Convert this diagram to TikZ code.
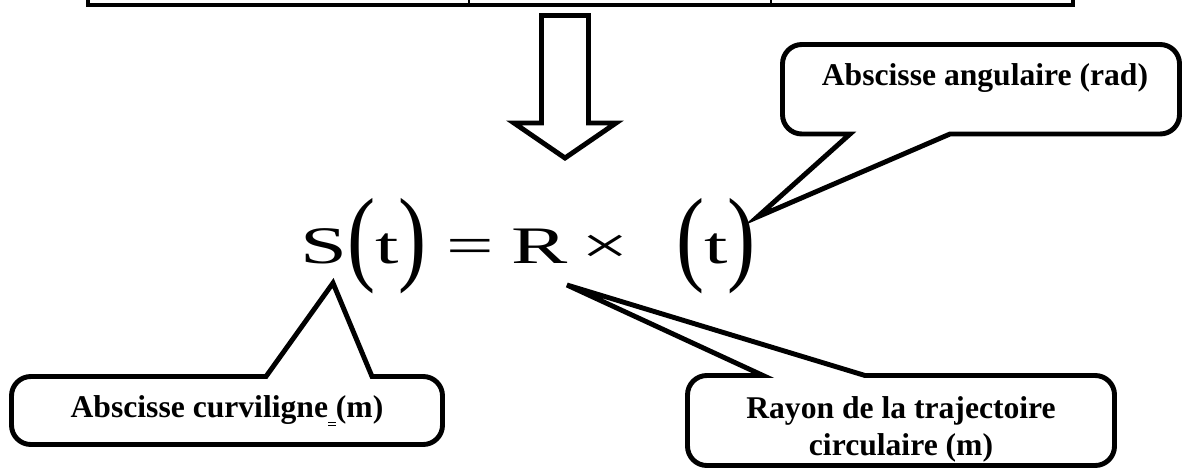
\documentclass[tikz,border=0pt]{standalone}
\usepackage{fontspec}
\setmainfont{Liberation Serif}
\usepackage{graphicx}

\newcommand{\eqfont}{\fontsize{30}{32}\selectfont}
\newcommand{\bigpar}[1]{\raisebox{-0.16em}{\scalebox{1}[2]{#1}}}
\newcommand{\wide}[1]{\scalebox{1.6}[1]{#1}}
\newcommand{\dblspace}{\rlap{\raisebox{-3.6pt}{\rule{4.5pt}{0.6pt}}}\rlap{\raisebox{-5.4pt}{\rule{4.5pt}{0.6pt}}}\hspace{4.5pt}}

\tikzset{
    bulle/.style={line width=2.8pt, line join=miter, rounded corners=11pt},
    bulletext/.style={font=\fontsize{18}{21}\selectfont\bfseries, inner sep=0pt, align=center},
    eqpart/.style={font=\eqfont, inner sep=0pt},
    tabline/.style={line width=2.3pt}
}

\begin{document}
\begin{tikzpicture}[x=0.02cm, y=-0.02cm]
    \useasboundingbox (0,0) rectangle (1185,470);

    % bottom of the table
    \draw[tabline] (88,-20) -- (88,5) -- (1073,5) -- (1073,-20);
    \foreach \xx in {469, 771}
        \draw[line width=1.2pt] (\xx,-20) -- (\xx,5);

    % block arrow
    \draw[line width=2.8pt, miter limit=10] (541.5,15.5) -- (588.5,15.5) -- (588.5,123)
        -- (616,123) -- (565,158) -- (514,123) -- (541.5,123) -- cycle;

    % equation
    \node (st)  [eqpart, anchor=base west] at (300,263) {\wide{S\bigpar{(}t\bigpar{)}}};
    \node (eqs) [eqpart, anchor=base] at (470,263) {\wide{=}};
    \node (rr)  [eqpart, anchor=base west] at (511,263) {\wide{R}};
    \node (tms) [eqpart, anchor=base] at (605,263) {\wide{\texttimes}};
    \node (tht) [eqpart, anchor=base west] at (676,263) {\wide{\bigpar{(}t\bigpar{)}}};

    \coordinate (tipS) at ([shift={(33,20)}]st.base west);
    \coordinate (tipR) at ([shift={(-1,22)}]rr.base east);
    \coordinate (tipT) at ([shift={(1,-46)}]tht.base east);

    % callouts
    \draw[bulle] (1000,134) -- (1179.5,134) -- (1179.5,44.5) -- (782.5,44.5) -- (782.5,134)
        -- (820,134) [sharp corners] -- (850,134) -- (tipT) -- (950,134) -- cycle;
    \node (angtxt) [bulletext, anchor=base] at (985,85) {Abscisse angulaire (rad)};

    \draw[bulle] (200,376.5) -- (11.5,376.5) -- (11.5,444.5) -- (442.5,444.5) -- (442.5,376.5)
        -- (400,376.5) [sharp corners] -- (372,376.5) -- (tipS) -- (266,376.5) -- cycle;
    \node (curvtxt) [bulletext, anchor=base] at (227,417) {Abscisse curviligne\dblspace(m)};

    \draw[bulle] (720,375.5) -- (687.5,375.5) -- (687.5,465.5) -- (1114.5,465.5) -- (1114.5,375.5)
        -- (900,375.5) [sharp corners] -- (865,375.5) -- (tipR) -- (763,375.5) -- cycle;
    \node (rayontxt) [bulletext] at (901,429) {Rayon de la trajectoire\\circulaire (m)};

\end{tikzpicture}
\end{document}
